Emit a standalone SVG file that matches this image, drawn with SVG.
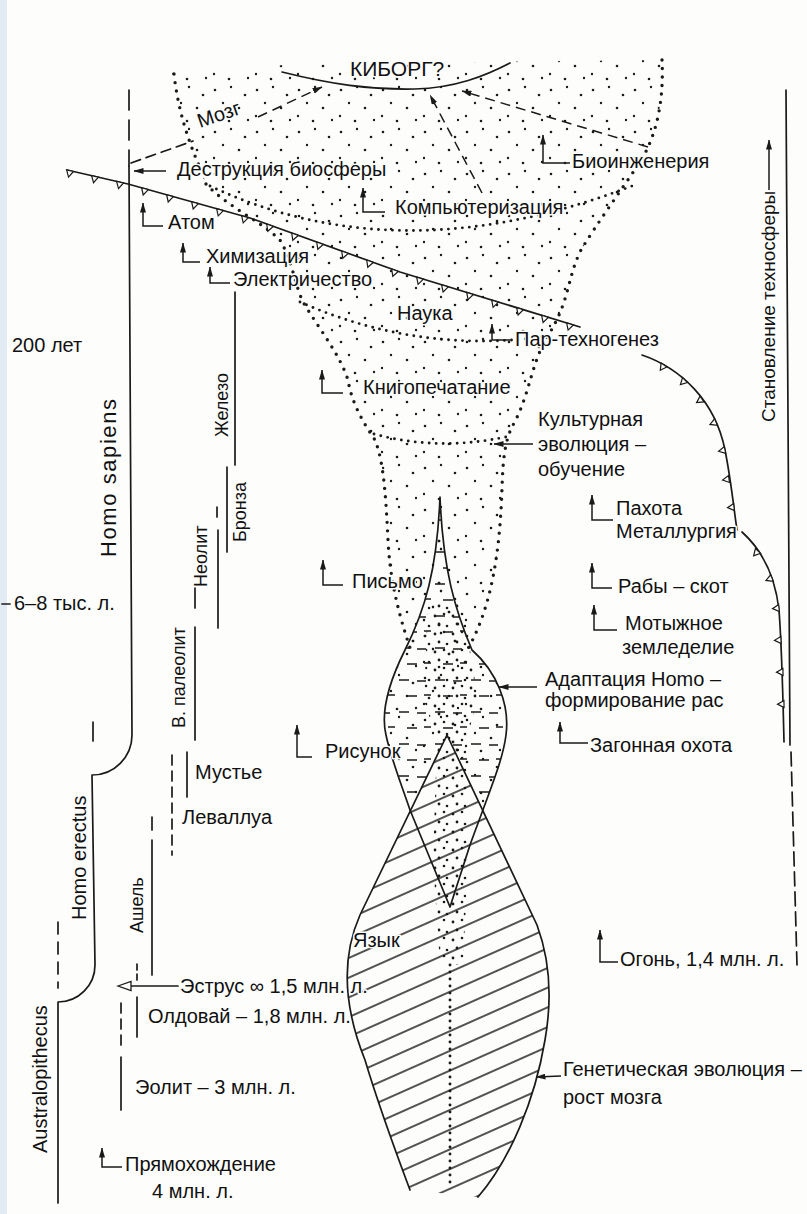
<svg xmlns="http://www.w3.org/2000/svg" width="807" height="1214" viewBox="0 0 807 1214">
<defs>
<style>
.ln{fill:none;stroke:#1a1a1a;stroke-width:1.7;stroke-linecap:round;stroke-linejoin:round}
.dsh{stroke-dasharray:10 6}
.t{font-family:"Liberation Sans",Arial,sans-serif;font-size:20px;fill:#111;stroke:#fdfdfc;stroke-width:3px;paint-order:stroke;stroke-linejoin:round}
.r{font-size:18px}
.edge{fill:none;stroke:#1a1a1a;stroke-width:3.4;stroke-linecap:round;stroke-dasharray:0 8.5}
.row{fill:none;stroke:#1a1a1a;stroke-width:2.9;stroke-linecap:round;stroke-dasharray:0 7}
.arr{fill:none;stroke:#1a1a1a;stroke-width:1.5;marker-end:url(#ah)}
</style>
<marker id="ah" viewBox="0 0 10 6" refX="9.5" refY="3" markerWidth="10" markerHeight="6" markerUnits="userSpaceOnUse" orient="auto"><path d="M0,0 L10,3 L0,6 Z" fill="#1a1a1a"/></marker>
<path id="tri" d="M-3.5,0 L3.5,0 L0,6.5 Z" fill="#fdfdfc" stroke="#1a1a1a" stroke-width="1.2"/>
<pattern id="dots" patternUnits="userSpaceOnUse" width="42" height="42">
<g fill="#1a1a1a"><circle cx="5" cy="6" r="1.3"/><circle cx="21" cy="3" r="1.2"/><circle cx="35" cy="11" r="1.3"/><circle cx="13" cy="19" r="1.2"/><circle cx="29" cy="24" r="1.3"/><circle cx="4" cy="32" r="1.2"/><circle cx="19" cy="37" r="1.3"/><circle cx="38" cy="36" r="1.2"/></g>
</pattern>
<pattern id="dots2" patternUnits="userSpaceOnUse" width="18" height="18">
<g fill="#1a1a1a"><circle cx="3" cy="4" r="1.4"/><circle cx="12" cy="2" r="1.3"/><circle cx="7" cy="12" r="1.4"/><circle cx="15" cy="14" r="1.3"/></g>
</pattern>
<pattern id="hatch" patternUnits="userSpaceOnUse" width="40" height="18" patternTransform="rotate(-24)">
<line x1="0" y1="9" x2="40" y2="9" stroke="#1a1a1a" stroke-width="1.3"/>
</pattern>
<pattern id="hdash" patternUnits="userSpaceOnUse" width="36" height="32">
<path d="M3,8 h10 M21,9 h9 M11,24 h10 M28,23 h7" stroke="#1a1a1a" stroke-width="1.4"/>
</pattern>
</defs>

<rect width="807" height="1214" fill="#fdfdfc"/>
<rect x="0" y="0" width="7" height="1214" fill="#e2eaf4"/>

<g id="cone">
<path d="M172,72 L300,64 L662,60 C664,100 657,135 640,162 C620,192 596,225 581,250 C567,278 570,300 549,334 C531,362 530,395 513,425 C501,447 503,480 501,510 C498,560 490,612 466,652 L440,662 L411,651 C398,612 390,580 388,540 C386,500 384,462 375,440 C365,425 352,405 348,380 C340,355 320,330 303,302 C295,285 292,260 280,240 C262,222 228,207 206,184 C195,160 183,130 178,100 Z" fill="url(#dots)"/>
<path class="edge" d="M174,74 C178,110 188,140 200,168"/>
<path class="edge" d="M206,184 C228,207 262,222 280,240 C292,260 295,285 303,302 C320,330 340,355 348,380 C352,405 365,425 375,440 C384,462 386,500 388,540 C390,580 398,612 411,651"/>
<path class="edge" d="M662,60 C664,100 657,135 640,162 C620,192 596,225 581,250 C567,278 570,300 549,334 C531,362 530,395 513,425 C501,447 503,480 501,510 C498,560 490,612 466,652"/>
<path class="row" d="M210,186 Q400,275 632,186"/>
<path class="row" d="M300,302 Q420,355 548,336"/>
<path class="row" d="M374,434 Q440,452 510,436"/>
</g>

<g id="lens">
<path d="M440,497 C437,570 425,610 405,650 C390,680 380,710 386,735 C390,755 398,775 410,810 L450,907 L470,845 C490,790 503,760 506,735 C510,705 497,672 472,650 C455,610 443,570 440,497 Z" fill="url(#hdash)"/>
<path d="M440,497 C437,570 425,610 405,650 C390,680 380,710 386,735 C390,755 398,775 410,810 L450,907 L470,845 C490,790 503,760 506,735 C510,705 497,672 472,650 C455,610 443,570 440,497 Z" fill="url(#dots)"/>
<path d="M428,600 L462,600 L478,700 L466,740 L437,740 L424,700 Z" fill="url(#dots2)"/>
</g>

<g id="genetic-shape">
<path d="M447,735 L537,925 C550,960 552,1000 545,1040 C535,1100 510,1160 478,1197 L410,1190 C395,1150 380,1110 365,1060 C345,1010 340,960 360,915 Z" fill="#fdfdfc"/>
<path d="M447,735 L537,925 C550,960 552,1000 545,1040 C535,1100 510,1160 478,1197 L410,1190 C395,1150 380,1110 365,1060 C345,1010 340,960 360,915 Z" fill="url(#hatch)"/>
</g>

<g id="dot-column">
<path d="M437,740 L466,740 L468,860 L463,965 L440,965 L433,860 Z" fill="url(#dots2)"/>
<path class="row" d="M450,965 V1185"/>
</g>

<g id="outlines">
<path class="ln" d="M440,497 C437,570 425,610 405,650 C390,680 380,710 386,735 C390,755 398,775 410,810 L450,907 L470,845 C490,790 503,760 506,735 C510,705 497,672 472,650 C455,610 443,570 440,497 Z"/>
<path class="ln" d="M410,1190 C395,1150 380,1110 365,1060 C345,1010 340,960 360,915 L447,735 L537,925 C550,960 552,1000 545,1040 C535,1100 510,1160 478,1197"/>
<path class="ln" d="M282,72 C330,84 370,90 415,89 C455,88 485,76 510,63"/>
</g>

<g id="biosphere-line">
<path class="ln" d="M67,170 L128,184 L250,218 L400,272 L580,327"/>
<use href="#tri" transform="translate(70,170.7) rotate(13)"/>
<use href="#tri" transform="translate(95,176.4) rotate(13)"/>
<use href="#tri" transform="translate(120,182.2) rotate(13)"/>
<use href="#tri" transform="translate(145,188.7) rotate(16)"/>
<use href="#tri" transform="translate(170,195.7) rotate(16)"/>
<use href="#tri" transform="translate(195,202.7) rotate(16)"/>
<use href="#tri" transform="translate(220,209.6) rotate(16)"/>
<use href="#tri" transform="translate(245,216.6) rotate(16)"/>
<use href="#tri" transform="translate(270,225.2) rotate(20)"/>
<use href="#tri" transform="translate(295,234.2) rotate(20)"/>
<use href="#tri" transform="translate(320,243.2) rotate(20)"/>
<use href="#tri" transform="translate(345,252.2) rotate(20)"/>
<use href="#tri" transform="translate(370,261.2) rotate(20)"/>
<use href="#tri" transform="translate(395,270.2) rotate(20)"/>
<use href="#tri" transform="translate(420,278.1) rotate(17)"/>
<use href="#tri" transform="translate(445,285.8) rotate(17)"/>
<use href="#tri" transform="translate(470,293.4) rotate(17)"/>
<use href="#tri" transform="translate(495,301.1) rotate(17)"/>
<use href="#tri" transform="translate(520,308.7) rotate(17)"/>
<use href="#tri" transform="translate(545,316.3) rotate(17)"/>
<use href="#tri" transform="translate(570,323.9) rotate(17)"/>
</g>

<g id="technosphere">
<path class="ln" d="M642,355 C680,368 715,400 725,450 C731,480 734,510 737,530"/>
<path class="ln" d="M742,532 C762,550 775,575 779,610 C782,650 783,700 784,742"/>
<use href="#tri" transform="translate(664,365) rotate(35)"/>
<use href="#tri" transform="translate(685,380) rotate(45)"/>
<use href="#tri" transform="translate(702,399) rotate(56)"/>
<use href="#tri" transform="translate(716,422) rotate(68)"/>
<use href="#tri" transform="translate(725,450) rotate(79)"/>
<use href="#tri" transform="translate(729,479) rotate(81)"/>
<use href="#tri" transform="translate(734,507) rotate(84)"/>
<use href="#tri" transform="translate(758,551) rotate(42)"/>
<use href="#tri" transform="translate(772,578) rotate(68)"/>
<use href="#tri" transform="translate(779,608) rotate(84)"/>
<use href="#tri" transform="translate(781,640) rotate(87)"/>
<use href="#tri" transform="translate(783,672) rotate(89)"/>
<use href="#tri" transform="translate(784,704) rotate(89)"/>
<path class="ln" d="M786,90 L790,745"/>
<path class="ln" d="M791,752 L797,965" stroke-dasharray="14 6"/>
</g>

<g id="lineages">
<path class="ln" d="M129,90 V166" stroke-dasharray="20 10"/>
<path class="ln" d="M129,166 L132,735 A40,40 0 0 1 92,775 L95,965 A37,37 0 0 1 58,1002 L58,1203"/>
<path class="ln" d="M93,722 V741"/>
<path class="ln" d="M58,922 V988" stroke-dasharray="12 8"/>
</g>

<g id="periods">
<path class="ln" d="M235,292 V465"/>
<path class="ln" d="M227,467 V552"/>
<path class="ln" d="M217,507 V517"/>
<path class="ln" d="M218,530 V628"/>
<path class="ln" d="M195,588 V608"/>
<path class="ln" d="M195,627 V740"/>
<path class="ln" d="M187,752 V797"/>
<path class="ln dsh" d="M172,755 V855"/>
<path class="ln" d="M152,817 V830"/>
<path class="ln" d="M152,840 V975"/>
<path class="ln" d="M137,964 V982" stroke-dasharray="6 4"/>
<path class="ln" d="M137,997 V1037"/>
<path class="ln dsh" d="M121,1003 V1050"/>
<path class="ln" d="M121,1057 V1110"/>
<path class="ln" d="M2,604 H10"/>
</g>

<g id="connectors">
<path class="ln" d="M131,163 L193,141" stroke-dasharray="10 6"/>
<path class="arr" d="M258,117 L322,87" stroke-dasharray="10 6"/>
<path class="arr" d="M482,193 L430,95" stroke-dasharray="10 6"/>
<path class="arr" d="M648,147 L462,91" stroke-dasharray="10 6"/>
<path class="arr" d="M166,171 L134,171"/>
<path class="arr" d="M533,444 L494,444"/>
<path class="arr" d="M537,687 L499,687"/>
<path class="arr" d="M561,1076 L536,1077"/>
<path class="ln" d="M178,986 L131,986"/>
<path d="M118,986 L131,981.5 L131,990.5 Z" fill="#fdfdfc" stroke="#1a1a1a" stroke-width="1.3"/>
<path class="arr" d="M769,190 L769,140"/>
<path class="arr" d="M163,226 H143 V203"/>
<path class="arr" d="M200,262 H183 V243"/>
<path class="arr" d="M230,283 H210 V267"/>
<path class="arr" d="M385,212 H363 V188"/>
<path class="arr" d="M570,163 H543 V135"/>
<path class="arr" d="M510,340 H492 V324"/>
<path class="arr" d="M343,393 H322 V370"/>
<path class="arr" d="M613,520 H592 V495"/>
<path class="arr" d="M612,588 H592 V563"/>
<path class="arr" d="M343,585 H323 V560"/>
<path class="arr" d="M617,630 H594 V605"/>
<path class="arr" d="M588,743 H560 V722"/>
<path class="arr" d="M312,757 H297 V725"/>
<path class="arr" d="M618,962 H600 V930"/>
<path class="arr" d="M122,1167 H102 V1148"/>
</g>

<g id="n-kiborg"><text class="t" x="350" y="76" style="font-size:21px">КИБОРГ?</text></g>
<g id="n-mozg"><text class="t" transform="translate(200,128) rotate(-19)">Мозг</text></g>
<g id="n-destrukciya"><text class="t" x="177" y="176">Деструкция биосферы</text></g>
<g id="n-atom"><text class="t" x="168" y="229">Атом</text></g>
<g id="n-himizaciya"><text class="t" x="206" y="263">Химизация</text></g>
<g id="n-elektrichestvo"><text class="t" x="233" y="286">Электричество</text></g>
<g id="n-komp"><text class="t" x="395" y="214">Компьютеризация</text></g>
<g id="n-bioing"><text class="t" x="572" y="168">Биоинженерия</text></g>
<g id="n-nauka"><text class="t" x="397" y="320">Наука</text></g>
<g id="n-par"><text class="t" x="515" y="346">Пар-техногенез</text></g>
<g id="n-knigopech"><text class="t" x="363" y="394">Книгопечатание</text></g>
<g id="n-kultura"><text class="t" x="538" y="426">Культурная</text><text class="t" x="538" y="451">эволюция –</text><text class="t" x="538" y="476">обучение</text></g>
<g id="n-pahota"><text class="t" x="616" y="515">Пахота</text><text class="t" x="616" y="538">Металлургия</text></g>
<g id="n-raby"><text class="t" x="618" y="593">Рабы – скот</text></g>
<g id="n-pismo"><text class="t" x="352" y="588">Письмо</text></g>
<g id="n-motyzh"><text class="t" x="625" y="630">Мотыжное</text><text class="t" x="622" y="654">земледелие</text></g>
<g id="n-adapt"><text class="t" x="545" y="686">Адаптация Homo –</text><text class="t" x="545" y="707">формирование рас</text></g>
<g id="n-zagon"><text class="t" x="590" y="752">Загонная охота</text></g>
<g id="n-risunok"><text class="t" x="325" y="758">Рисунок</text></g>
<g id="n-yazyk"><text class="t" x="353" y="947">Язык</text></g>
<g id="n-ogon"><text class="t" x="620" y="966">Огонь, 1,4 млн. л.</text></g>
<g id="n-genetic"><text class="t" x="563" y="1076">Генетическая эволюция –</text><text class="t" x="563" y="1104">рост мозга</text></g>
<g id="n-estrus"><text class="t" x="180" y="993">Эструс ∞ 1,5 млн. л.</text></g>
<g id="n-oldovay"><text class="t" x="148" y="1023">Олдовай – 1,8 млн. л.</text></g>
<g id="n-eolit"><text class="t" x="135" y="1094">Эолит – 3 млн. л.</text></g>
<g id="n-pryamo"><text class="t" x="125" y="1171">Прямохождение</text><text class="t" x="152" y="1198">4 млн. л.</text></g>
<g id="n-200"><text class="t" x="12" y="352">200 лет</text></g>
<g id="n-68"><text class="t" x="14" y="610">6–8 тыс. л.</text></g>
<g id="n-muste"><text class="t" x="195" y="779">Мустье</text></g>
<g id="n-levallua"><text class="t" x="182" y="824">Леваллуа</text></g>
<g id="n-sapiens"><text class="t" transform="translate(116,557) rotate(-90)" textLength="158" style="font-size:22px">Homo sapiens</text></g>
<g id="n-zhelezo"><text class="t r" transform="translate(228,437) rotate(-90)">Железо</text></g>
<g id="n-bronza"><text class="t r" transform="translate(246,542) rotate(-90)">Бронза</text></g>
<g id="n-neolit"><text class="t r" transform="translate(207,587) rotate(-90)">Неолит</text></g>
<g id="n-paleolit"><text class="t r" transform="translate(185,728) rotate(-90)">В. палеолит</text></g>
<g id="n-erectus"><text class="t" transform="translate(86,920) rotate(-90)">Homo erectus</text></g>
<g id="n-ashel"><text class="t r" transform="translate(143,933) rotate(-90)">Ашель</text></g>
<g id="n-australo"><text class="t" transform="translate(47,1153) rotate(-90)">Australopithecus</text></g>
<g id="n-technosfera"><text class="t" transform="translate(775,422) rotate(-90)" style="font-size:19px">Становление техносферы</text></g>
</svg>
